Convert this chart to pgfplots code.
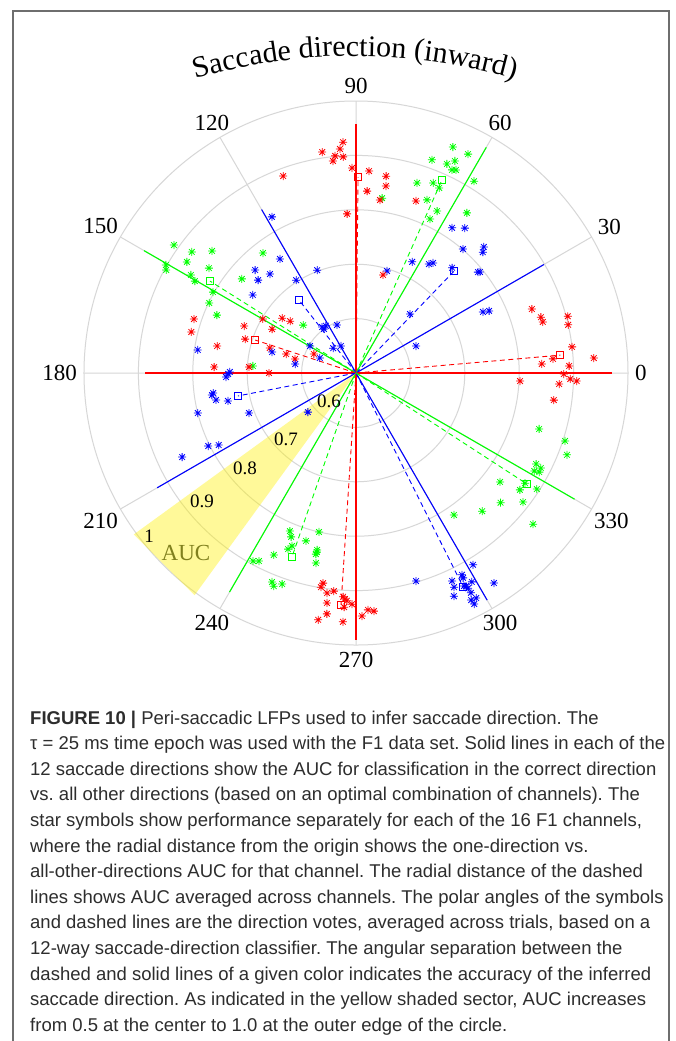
\documentclass[border=0pt]{standalone}
\usepackage{pgfplots}
\pgfplotsset{compat=1.18}
\usepgfplotslibrary{polar}
\usetikzlibrary{decorations.text,calc}
\usepackage{fontspec}
\setmainfont{Liberation Serif}
\newfontfamily\capfont{Liberation Sans}
\definecolor{mred}{rgb}{1,0,0}
\definecolor{mgreen}{rgb}{0,1,0}
\definecolor{mblue}{rgb}{0,0,1}
\definecolor{gridgray}{RGB}{215,215,215}
\definecolor{auccol}{RGB}{128,128,30}
\definecolor{capcol}{RGB}{45,45,45}
\definecolor{framecol}{RGB}{110,110,110}

\pgfdeclareplotmark{mstar}{%
  \pgfpathmoveto{\pgfqpoint{-\pgfplotmarksize}{0pt}}\pgfpathlineto{\pgfqpoint{\pgfplotmarksize}{0pt}}%
  \pgfpathmoveto{\pgfqpoint{0pt}{-\pgfplotmarksize}}\pgfpathlineto{\pgfqpoint{0pt}{\pgfplotmarksize}}%
  \pgfpathmoveto{\pgfqpoint{-0.707\pgfplotmarksize}{-0.707\pgfplotmarksize}}\pgfpathlineto{\pgfqpoint{0.707\pgfplotmarksize}{0.707\pgfplotmarksize}}%
  \pgfpathmoveto{\pgfqpoint{-0.707\pgfplotmarksize}{0.707\pgfplotmarksize}}\pgfpathlineto{\pgfqpoint{0.707\pgfplotmarksize}{-0.707\pgfplotmarksize}}%
  \pgfusepathqstroke}

\pgfplotsset{
  stars/.style={only marks, mark=mstar, mark size=4pt, mark options={line width=0.8pt}, #1},
  sline/.style={color=#1, line width=1.1pt, no marks},
  dline/.style={color=#1, line width=0.9pt, dash pattern=on 5pt off 3.5pt, mark=square, mark indices={2}, mark size=3.5pt, mark options={solid, line width=0.8pt}},
}

\begin{document}
\begin{tikzpicture}[x=1pt,y=1pt]
\useasboundingbox (0,0) rectangle (676,-1041);
\fill[white] (0,0) rectangle (676,-1041);
\draw[framecol, line width=1.3pt] (13,-1045) -- (13,-11) -- (669,-11) -- (669,-1045);

\begin{polaraxis}[
  at={(356pt,-373pt)}, anchor=origin,
  scale only axis, width=544pt, height=544pt,
  xmin=0, xmax=360, ymin=0.5, ymax=1,
  y coord trafo/.code={\pgfmathparse{#1-0.5}},
  y coord inv trafo/.code={\pgfmathparse{#1+0.5}},
  xtick={0,30,...,330}, ytick={0.6,0.7,0.8,0.9,1},
  xticklabels={}, yticklabels={},
  major tick length=0pt,
  xmajorgrids, ymajorgrids,
  major grid style={gridgray, line width=1pt},
  axis line style={draw=none},
  ytick style={draw=none},
  xtick style={draw=none},
  clip=false,
]
% solid lines: AUC of optimal channel combination
\addplot[sline=mred, line width=1.6pt] coordinates {(0,0.5) (0,0.971)};
\addplot[sline=mblue] coordinates {(30,0.5) (30,0.899)};
\addplot[sline=mgreen] coordinates {(60,0.5) (60,0.979)};
\addplot[sline=mred] coordinates {(90,0.5) (90,0.958)};
\addplot[sline=mblue] coordinates {(120,0.5) (120,0.847)};
\addplot[sline=mgreen] coordinates {(150,0.5) (150,0.950)};
\addplot[sline=mred, line width=1.6pt] coordinates {(180,0.5) (180,0.888)};
\addplot[sline=mblue] coordinates {(210,0.5) (210,0.922)};
\addplot[sline=mgreen] coordinates {(240,0.5) (240,0.965)};
\addplot[sline=mred] coordinates {(270,0.5) (270,0.990)};
\addplot[sline=mblue] coordinates {(300,0.5) (300,0.982)};
\addplot[sline=mgreen] coordinates {(330,0.5) (330,0.964)};
% dashed lines: channel-averaged AUC at voted direction
\addplot[dline=mred] coordinates {(5.0,0.5) (5.0,0.877)};
\addplot[dline=mblue] coordinates {(46.1,0.5) (46.1,0.760)};
\addplot[dline=mgreen] coordinates {(66.0,0.5) (66.0,0.888)};
\addplot[dline=mred] coordinates {(89.4,0.5) (89.4,0.860)};
\addplot[dline=mblue] coordinates {(128.0,0.5) (128.0,0.670)};
\addplot[dline=mgreen] coordinates {(147.8,0.5) (147.8,0.817)};
\addplot[dline=mred] coordinates {(161.9,0.5) (161.9,0.695)};
\addplot[dline=mblue] coordinates {(191.0,0.5) (191.0,0.721)};
\addplot[dline=mgreen] coordinates {(250.8,0.5) (250.8,0.858)};
\addplot[dline=mred] coordinates {(266.3,0.5) (266.3,0.927)};
\addplot[dline=mblue] coordinates {(296.6,0.5) (296.6,0.940)};
\addplot[dline=mgreen] coordinates {(327.0,0.5) (327.0,0.875)};
% stars: single channels
\addplot[stars=mred] coordinates {(20.0,0.844)(16.8,0.855)(15.3,0.856)(15.0,0.903)(12.8,0.900)(6.9,0.900)(3.6,0.938)(4.1,0.863)(2.8,0.842)(1.9,0.892)(359.7,0.882)(357.2,0.802)(358.4,0.894)(357.9,0.906)(356.9,0.874)(352.2,0.867)};
\addplot[stars=mblue] coordinates {(56.5,0.820)(53.1,0.833)(49.2,0.801)(44.6,0.830)(43.6,0.822)(63.2,0.729)(56.2,0.741)(55.0,0.747)(73.1,0.696)(47.6,0.762)(39.6,0.791)(39.2,0.794)(47.5,0.647)(25.7,0.759)(25.0,0.770)(24.2,0.621)};
\addplot[stars=mgreen] coordinates {(66.8,0.952)(62.9,0.952)(70.4,0.916)(66.5,0.919)(65.0,0.930)(64.7,0.913)(63.8,0.916)(58.4,0.914)(72.2,0.867)(67.9,0.877)(65.8,0.873)(67.7,0.844)(81.5,0.825)(63.4,0.833)(55.3,0.858)(64.3,0.814)};
\addplot[stars=mred] coordinates {(93.2,0.925)(98.7,0.911)(94.1,0.913)(95.5,0.901)(93.4,0.898)(96.2,0.892)(91.1,0.877)(86.3,0.872)(81.3,0.866)(80.9,0.848)(86.5,0.835)(82.1,0.821)(70.8,0.835)(93.2,0.793)(110.3,0.886)(74.6,0.687)};
\addplot[stars=mblue] coordinates {(118.3,0.826)(123.7,0.752)(134.4,0.765)(131.0,0.741)(136.5,0.748)(122.8,0.703)(110.7,0.702)(142.9,0.738)(126.5,0.605)(126.0,0.600)(111.6,0.595)(132.6,0.562)(119.1,0.557)(149.6,0.598)(157.4,0.572)(122.5,0.603)};
\addplot[stars=mgreen] coordinates {(144.9,0.909)(143.6,0.875)(139.7,0.847)(146.7,0.872)(144.5,0.832)(150.4,0.902)(151.5,0.897)(149.3,0.853)(150.3,0.841)(140.5,0.772)(127.8,0.779)(150.5,0.802)(154.5,0.799)(157.4,0.777)(137.8,0.631)(176.1,0.690)};
\addplot[stars=mred] coordinates {(161.6,0.814)(166.0,0.812)(169.0,0.760)(177.6,0.761)(157.2,0.723)(163.0,0.713)(149.9,0.698)(152.4,0.674)(143.4,0.669)(141.8,0.654)(163.8,0.665)(164.8,0.633)(167.1,0.615)(155.7,0.585)(176.8,0.697)(180.0,0.660)};
\addplot[stars=mblue] coordinates {(171.7,0.794)(180.4,0.735)(181.8,0.739)(188.7,0.768)(190.9,0.762)(192.3,0.741)(194.2,0.800)(200.5,0.710)(206.3,0.803)(207.7,0.785)(205.8,0.855)(166.0,0.659)(171.6,0.613)(219.1,0.614)(179.5,0.732)(188.0,0.765)};
\addplot[stars=mgreen] coordinates {(247.3,0.815)(248.4,0.824)(256.9,0.800)(253.4,0.822)(249.7,0.839)(248.9,0.847)(257.6,0.833)(257.5,0.841)(245.7,0.867)(258.1,0.857)(241.3,0.894)(242.7,0.889)(248.1,0.914)(248.9,0.920)(250.7,0.911)(257.7,0.837)};
\addplot[stars=mred] coordinates {(261.1,0.891)(260.7,0.899)(264.2,0.903)(262.5,0.908)(266.7,0.912)(267.2,0.916)(267.7,0.919)(269.0,0.925)(267.1,0.931)(262.8,0.926)(263.1,0.946)(261.3,0.959)(267.0,0.958)(271.4,0.947)(272.9,0.936)(274.3,0.939)};
\addplot[stars=mblue] coordinates {(301.4,0.913)(297.7,0.919)(297.6,0.925)(294.8,0.921)(299.0,0.939)(303.3,0.962)(286.1,0.898)(294.6,0.933)(296.9,0.939)(297.3,0.941)(293.7,0.948)(297.6,0.956)(298.1,0.969)(296.9,0.968)(297.1,0.977)(297.5,0.946)};
\addplot[stars=mgreen] coordinates {(343.0,0.852)(342.0,0.904)(338.8,0.916)(333.2,0.871)(332.8,0.882)(331.2,0.874)(331.6,0.883)(322.9,0.832)(326.9,0.871)(327.3,0.895)(324.5,0.870)(318.1,0.857)(322.3,0.888)(312.4,0.844)(304.6,0.817)(319.5,0.928)};
% yellow AUC sector
\addplot[draw=none, fill=yellow, fill opacity=0.4] coordinates {(216,0.5) (216,1.005) (234,1.005) (234,0.5)} -- cycle;
\end{polaraxis}

% angular labels
\foreach \a [evaluate=\a as \b using {int(mod(\a+180,360))}] in {0,30,...,330}
  \node[anchor=\b, inner sep=0pt, font=\fontsize{23}{23}\selectfont] at ($(356,-373)+(\a:279)$) {\a};
% radial labels
\begin{scope}[every node/.style={font=\fontsize{19}{19}\selectfont, inner sep=0pt}]
\node at (329,-401) {0.6};
\node at (286,-439) {0.7};
\node at (245,-468) {0.8};
\node at (202,-501) {0.9};
\node at (149,-536) {1};
\end{scope}
\node[font=\fontsize{23}{23}\selectfont, text=auccol, inner sep=0pt] at (186,-553) {AUC};

% curved title
\path[decorate, decoration={text along path, text align=center,
  text={|\fontsize{30}{32}\selectfont|Saccade direction (inward)}}]
  (355,-626) ++(120:570) arc[start angle=120, end angle=60, radius=570];

% caption
\begin{scope}[every node/.style={anchor=base west, inner sep=0pt, text=capcol, font=\capfont\fontsize{18.5}{21}\selectfont\frenchspacing}]
\node at (30,-724.0) {\textbf{FIGURE 10 |} Peri-saccadic LFPs used to infer saccade direction. The};
\node at (30,-749.6) {τ = 25 ms time epoch was used with the F1 data set. Solid lines in each of the};
\node at (30,-775.2) {12 saccade directions show the AUC for classification in the correct direction};
\node at (30,-800.8) {vs. all other directions (based on an optimal combination of channels). The};
\node at (30,-826.4) {star symbols show performance separately for each of the 16 F1 channels,};
\node at (30,-852.0) {where the radial distance from the origin shows the one-direction vs.};
\node at (30,-877.6) {all-other-directions AUC for that channel. The radial distance of the dashed};
\node at (30,-903.2) {lines shows AUC averaged across channels. The polar angles of the symbols};
\node at (30,-928.8) {and dashed lines are the direction votes, averaged across trials, based on a};
\node at (30,-954.4) {12-way saccade-direction classifier. The angular separation between the};
\node at (30,-980.0) {dashed and solid lines of a given color indicates the accuracy of the inferred};
\node at (30,-1005.6) {saccade direction. As indicated in the yellow shaded sector, AUC increases};
\node at (30,-1031.2) {from 0.5 at the center to 1.0 at the outer edge of the circle.};
\end{scope}
\end{tikzpicture}
\end{document}
